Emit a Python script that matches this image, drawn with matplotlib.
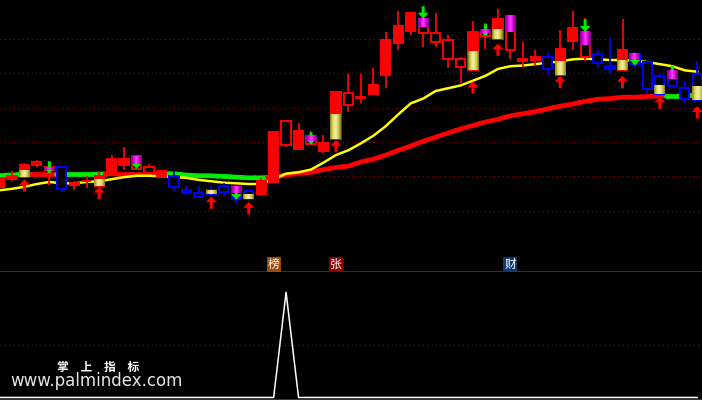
import numpy as np
import matplotlib
matplotlib.use("Agg")
import matplotlib.pyplot as plt
from matplotlib.colors import LinearSegmentedColormap
from matplotlib.patches import Polygon
from matplotlib.collections import LineCollection

plt.rcParams['font.family'] = ['Noto Sans CJK SC', 'DejaVu Sans']

# K线: rf 红实体, rh 红空心, bh 蓝空心
kinds = ['rf', 'rf', 'rf', 'rh', 'rh', 'bh', 'rf', 'rf', 'rf', 'rf',
         'rf', 'rh', 'rh', 'rf', 'bh', 'bh', 'bh', 'bh', 'bh', 'bh',
         'bh', 'rf', 'rf', 'rh', 'rf', 'rh', 'rf', 'rf', 'rh', 'rf',
         'rf', 'rf', 'rf', 'rf', 'rh', 'rh', 'rh', 'rh', 'rf', 'rh',
         'rf', 'rh', 'rh', 'rf', 'bh', 'rf', 'rf', 'rh', 'bh', 'bh',
         'rf', 'bh', 'bh', 'bh', 'bh', 'bh', 'bh']
opens = [10.35, 10.46, 10.49, 10.67, 10.60, 10.64, 10.38, 10.43, 10.36, 10.55,
         10.67, 10.61, 10.55, 10.49, 10.51, 10.30, 10.26, 10.30, 10.36, 10.36,
         10.29, 10.25, 10.42, 10.95, 10.90, 10.97, 10.87, 11.04, 11.53, 11.64,
         11.70, 11.97, 12.44, 12.61, 12.58, 12.45, 12.20, 12.09, 12.05, 12.54,
         12.50, 12.34, 12.17, 12.19, 12.23, 11.97, 12.47, 12.24, 12.28, 12.10,
         12.05, 12.28, 12.16, 11.96, 12.03, 11.78, 11.99]
closes = [10.48, 10.51, 10.66, 10.71, 10.64, 10.32, 10.40, 10.44, 10.51, 10.75,
          10.75, 10.79, 10.64, 10.58, 10.35, 10.26, 10.20, 10.25, 10.28, 10.17,
          10.17, 10.44, 11.14, 11.30, 11.16, 11.09, 10.98, 11.73, 11.71, 11.66,
          11.83, 12.48, 12.68, 12.87, 12.79, 12.58, 12.48, 12.20, 12.59, 12.63,
          12.79, 12.83, 12.20, 12.23, 12.06, 12.35, 12.66, 12.60, 12.15, 12.06,
          12.34, 12.13, 11.77, 11.70, 11.81, 11.62, 11.61]
highs = [10.48, 10.58, 10.70, 10.74, 10.65, 10.64, 10.43, 10.51, 10.58, 10.81,
         10.93, 10.81, 10.68, 10.58, 10.58, 10.38, 10.36, 10.36, 10.40, 10.36,
         10.30, 10.48, 11.14, 11.30, 11.27, 11.16, 11.10, 11.73, 11.99, 11.99,
         12.07, 12.59, 12.90, 12.87, 12.96, 12.87, 12.55, 12.23, 12.76, 12.73,
         12.93, 12.83, 12.45, 12.34, 12.31, 12.63, 12.90, 12.80, 12.34, 12.51,
         12.79, 12.31, 12.16, 12.00, 12.03, 11.89, 12.18]
lows = [10.35, 10.43, 10.49, 10.64, 10.38, 10.27, 10.30, 10.33, 10.36, 10.55,
        10.59, 10.61, 10.55, 10.48, 10.29, 10.23, 10.20, 10.25, 10.22, 10.12,
        10.17, 10.21, 10.42, 10.93, 10.88, 10.97, 10.84, 11.04, 11.44, 11.56,
        11.68, 11.79, 12.34, 12.55, 12.38, 12.38, 12.08, 11.85, 12.05, 12.35,
        12.50, 12.20, 12.09, 12.10, 11.97, 11.97, 12.34, 12.18, 12.07, 11.99,
        12.05, 12.09, 11.71, 11.70, 11.81, 11.56, 11.61]

# 均线
ma_yellow = [10.30, 10.32, 10.35, 10.39, 10.42, 10.40, 10.40, 10.42, 10.43, 10.46,
             10.49, 10.51, 10.51, 10.50, 10.49, 10.48, 10.45, 10.43, 10.41, 10.40,
             10.39, 10.39, 10.46, 10.54, 10.56, 10.60, 10.70, 10.81, 10.88, 10.98,
             11.09, 11.23, 11.40, 11.56, 11.63, 11.74, 11.78, 11.82, 11.89, 11.96,
             12.06, 12.10, 12.11, 12.13, 12.15, 12.17, 12.20, 12.21, 12.20, 12.19,
             12.19, 12.18, 12.16, 12.13, 12.10, 12.04, 12.02]
ma_trend = [10.52, 10.52, 10.53, 10.53, 10.53, 10.53, 10.53, 10.53, 10.53, 10.54,
            10.54, 10.54, 10.54, 10.54, 10.54, 10.52, 10.51, 10.51, 10.50, 10.49,
            10.48, 10.48, 10.49, 10.52, 10.55, 10.56, 10.60, 10.63, 10.65, 10.71,
            10.75, 10.81, 10.88, 10.94, 11.01, 11.07, 11.13, 11.19, 11.24, 11.29,
            11.33, 11.38, 11.41, 11.44, 11.48, 11.52, 11.55, 11.59, 11.62, 11.63,
            11.65, 11.65, 11.66, 11.67, 11.67, 11.67, 11.68]
trend_up = [1, 1, 1, 0, 0, 1, 1, 1, 1, 0, 0, 0, 0, 0, 1, 1, 1, 1, 1, 1,
            1, 1] + [0] * 32 + [1, 1, 1]

# 信号
gold_idx = [2, 8, 17, 20, 27, 38, 40, 45, 50, 53, 56]
gold_top = [10.59, 10.46, 10.30, 10.23, 11.39, 12.32, 12.64, 12.17, 12.19, 11.83, 11.80]
gold_bot = [10.49, 10.36, 10.25, 10.17, 11.04, 12.05, 12.50, 11.97, 12.05, 11.70, 11.61]
up_tip = [10.46, 10.35, 10.21, 10.13, 11.03, 11.88, 12.43, 11.96, 11.96, 11.66, 11.52]

mag_idx = [4, 11, 19, 25, 34, 39, 41, 47, 51, 54]
mag_top = [10.64, 10.79, 10.36, 11.09, 12.79, 12.63, 12.83, 12.60, 12.28, 12.03]
mag_bot = [10.60, 10.68, 10.26, 11.01, 12.67, 12.58, 12.59, 12.41, 12.19, 11.91]
down_idx = [4, 11, 19, 25, 34, 39, 47, 51, 54]
down_tip = [10.54, 10.61, 10.16, 10.96, 12.79, 12.53, 12.60, 12.11, 11.93]

label_idx = [22, 27, 41]
label_text = ['榜', '张', '财']
label_bg = ['#9c4a0a', '#8e0000', '#0e3a72']

sub_signal = [0] * 23 + [1] + [0] * 33

grid_main = [10.0, 10.5, 11.0, 11.5, 12.0, 12.5]

RED = '#ff0000'
BLUE = '#0000ff'
GREEN = '#00ee00'
gold_cmap = LinearSegmentedColormap.from_list(
    'gold', ['#8a8420', '#e2dc58', '#f4f0b0', '#d8d050', '#86801e'])
mag_cmap = LinearSegmentedColormap.from_list(
    'mag', ['#860086', '#e000e0', '#ff44ff', '#d000d0', '#7a007a'])

fig = plt.figure(figsize=(7.02, 4.0), dpi=100, facecolor='black')
ax = fig.add_axes([0, 0.32, 1, 0.68], facecolor='black')
ax2 = fig.add_axes([0, 0, 1, 0.32], facecolor='black')

x = np.arange(len(opens))

# 趋势线 (红/绿)
segs, cols = [], []
n = len(ma_trend)
for i in range(n):
    v = ma_trend[i]
    left = (ma_trend[i - 1] + v) / 2 if i > 0 else v
    right = (ma_trend[i + 1] + v) / 2 if i < n - 1 else v
    segs.append([(i - 0.5, left), (i, v), (i + 0.5, right)])
    cols.append(GREEN if trend_up[i] else RED)
ax.add_collection(LineCollection(segs, colors=cols, linewidths=3.4,
                                 capstyle='round', zorder=2))
ax.plot(x, ma_yellow, color='#ffff00', lw=1.8, zorder=2.5)

# K线
for i in x:
    k = kinds[i]
    col = RED if k[0] == 'r' else BLUE
    top, bot = max(opens[i], closes[i]), min(opens[i], closes[i])
    ax.vlines(i, lows[i], highs[i], color=col, lw=1.3, zorder=3)
    face = col if k[1] == 'f' else 'black'
    ax.bar(i, top - bot, bottom=bot, width=0.74, facecolor=face,
           edgecolor=col, lw=1.4, zorder=4)

grad = np.linspace(0, 1, 32)[None, :]
head_h, arrow_h = 0.085, 0.18
for i, t in zip(gold_idx, up_tip):
    pts = [(i, t), (i - 0.44, t - head_h), (i - 0.12, t - head_h),
           (i - 0.12, t - arrow_h), (i + 0.12, t - arrow_h),
           (i + 0.12, t - head_h), (i + 0.44, t - head_h)]
    ax.add_patch(Polygon(pts, closed=True, fc=RED, ec='none', zorder=5))
for i, t in zip(down_idx, down_tip):
    pts = [(i, t), (i - 0.44, t + head_h), (i - 0.12, t + head_h),
           (i - 0.12, t + arrow_h), (i + 0.12, t + arrow_h),
           (i + 0.12, t + head_h), (i + 0.44, t + head_h)]
    ax.add_patch(Polygon(pts, closed=True, fc=GREEN, ec='none', zorder=5))

for i, t, b in zip(gold_idx, gold_top, gold_bot):
    ax.imshow(grad, cmap=gold_cmap, extent=[i - 0.44, i + 0.44, b, t],
              aspect='auto', interpolation='bilinear', zorder=6)
for i, t, b in zip(mag_idx, mag_top, mag_bot):
    ax.imshow(grad, cmap=mag_cmap, extent=[i - 0.44, i + 0.44, b, t],
              aspect='auto', interpolation='bilinear', zorder=6)

for i, s, c in zip(label_idx, label_text, label_bg):
    ax.text(i, 9.222, s, ha='center', va='center', color='white', fontsize=8.5,
            bbox=dict(boxstyle='square,pad=0.1', fc=c, ec='none'), zorder=7)

ax.set_xlim(0.04, 56.38)
ax.set_ylim(9.113, 13.061)
ax.set_yticks(grid_main)
ax.set_xticks([])
ax.tick_params(length=0, labelleft=False)
ax.grid(axis='y', color='#a00000', linestyle=(0, (1, 3)), lw=0.8)
for sp in ['top', 'left', 'right']:
    ax.spines[sp].set_visible(False)
ax.spines['bottom'].set_color('#cc0000')
ax.spines['bottom'].set_linewidth(1.1)

# 副图
ax2.plot(x, sub_signal, color='white', lw=1.1)
ax2.set_xlim(0.04, 56.38)
ax2.set_ylim(-0.024, 1.193)
ax2.set_yticks([0.5])
ax2.set_xticks([])
ax2.tick_params(length=0, labelleft=False)
ax2.grid(axis='y', color='#a00000', linestyle=(0, (1, 3)), lw=0.8)
for sp in ['top', 'left', 'right']:
    ax2.spines[sp].set_visible(False)
ax2.spines['bottom'].set_color('#b00000')
ax2.spines['bottom'].set_linewidth(1.5)

fig.text(98 / 702, 1 - 367 / 400, '掌　上　指　标', color='white', fontsize=8.5,
         fontweight='bold', ha='center', va='center')
fig.text(10 / 702, 1 - 381 / 400, 'www.palmindex.com', color='#e6e6e6',
         fontsize=12, family='DejaVu Sans', ha='left', va='center')

fig.savefig('out.png', dpi=100, facecolor='black')
